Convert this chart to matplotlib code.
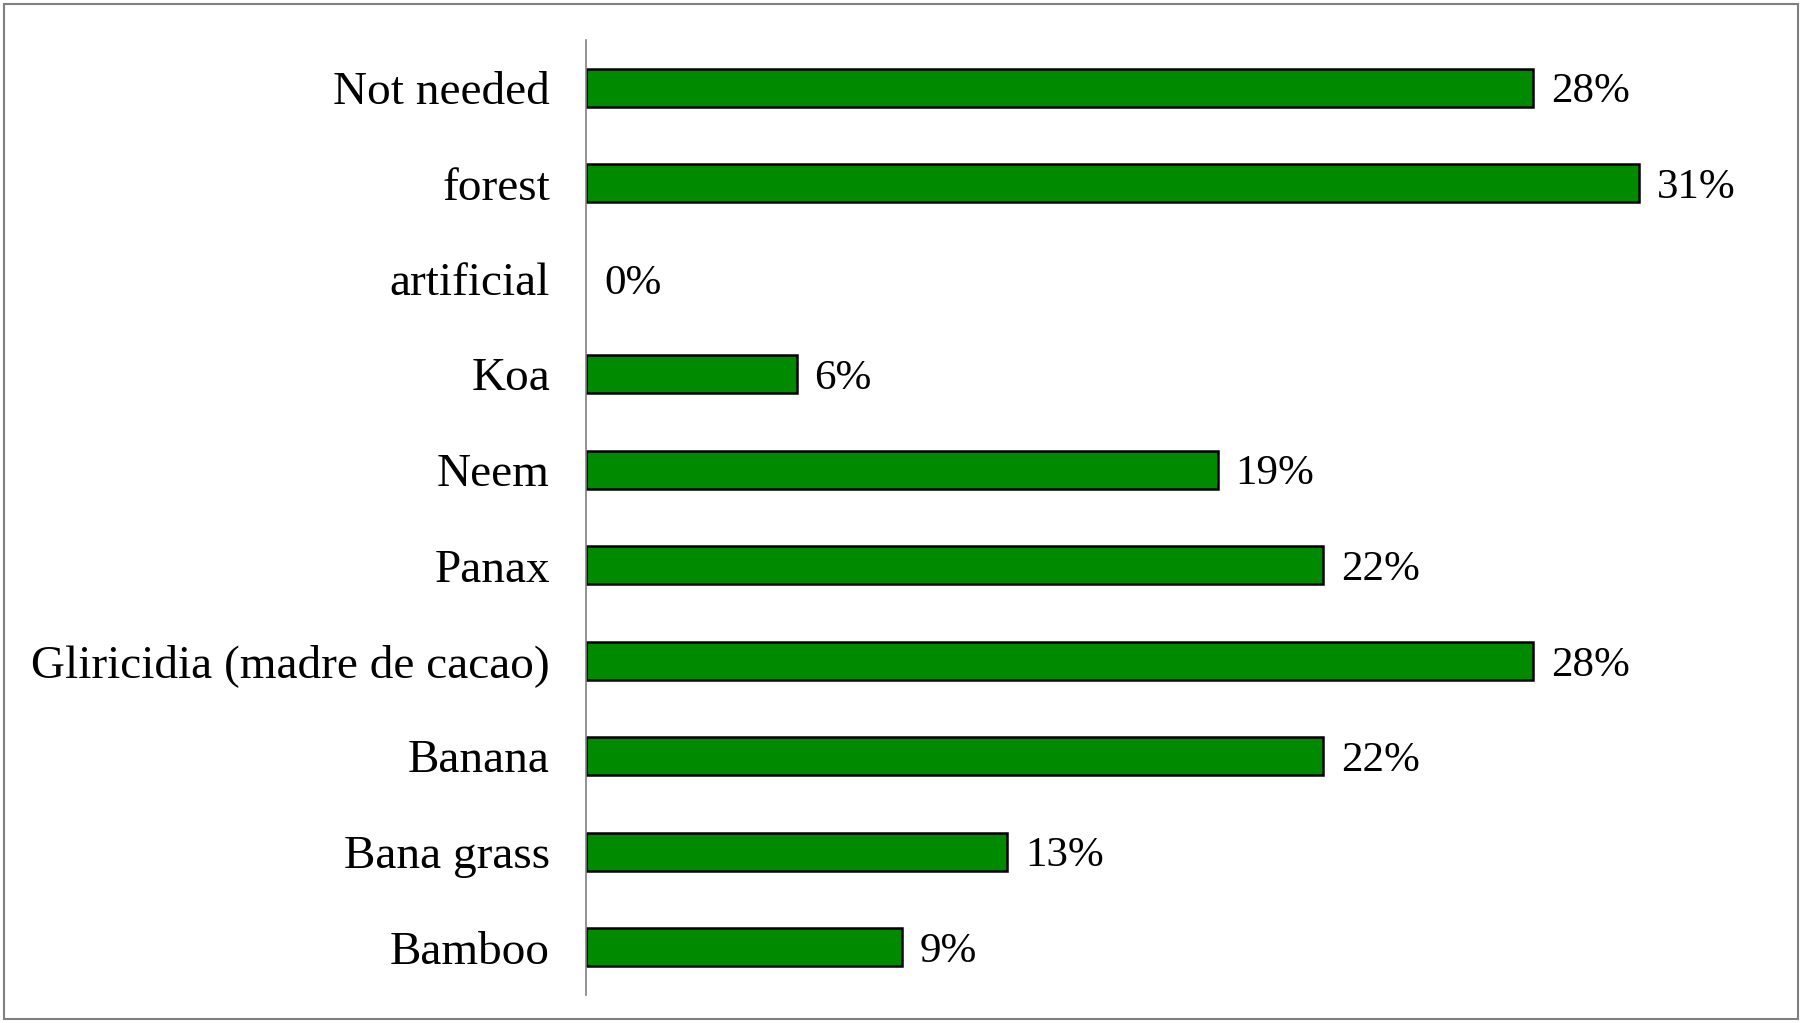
import matplotlib.pyplot as plt
from matplotlib.patches import Rectangle

categories = ['Not needed', 'forest', 'artificial', 'Koa', 'Neem', 'Panax',
              'Gliricidia (madre de cacao)', 'Banana', 'Bana grass', 'Bamboo']
values = [28.125, 31.25, 0.0, 6.25, 18.75, 21.875, 28.125, 21.875, 12.5, 9.375]
value_labels = ['28%', '31%', '0%', '6%', '19%', '22%', '28%', '22%', '13%', '9%']

plt.rcParams['font.family'] = ['Liberation Serif', 'DejaVu Serif']

fig = plt.figure(figsize=(18.03, 10.23), dpi=100)
ax = fig.add_axes([586/1803, 1-995/1023, (1770-586)/1803, (995-40)/1023])

y = list(range(len(categories)))
bars = ax.barh(y, values, height=0.4, color='#008a00', edgecolor='black',
               linewidth=[1.8 if v > 0 else 0 for v in values])
txts = ax.bar_label(bars, labels=value_labels, padding=13, fontsize=31)
for t in txts:
    t.set_verticalalignment('center_baseline')

ax.set_ylim(len(categories) - 0.5, -0.5)
ax.set_xlim(0, 35.15)
ax.set_yticks(y)
ax.set_yticklabels(categories, fontsize=34)
ax.tick_params(axis='y', length=0, pad=26)
ax.set_xticks([])
for s in ['top', 'right', 'bottom']:
    ax.spines[s].set_visible(False)
ax.spines['left'].set_color('#808080')
ax.spines['left'].set_linewidth(1.2)
ax.spines['left'].set_zorder(5)

# grey frame round the whole chart
fig.patches.append(Rectangle((4/1803, 4/1023), 1794/1803, 1015/1023,
                             transform=fig.transFigure, fill=False,
                             edgecolor='#808080', linewidth=1.5))

fig.savefig('out.png', dpi=100)
